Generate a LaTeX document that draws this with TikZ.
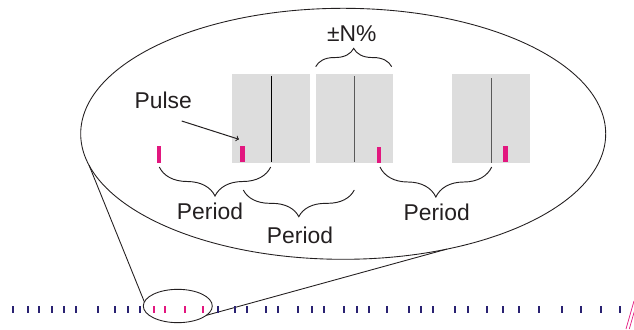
\documentclass[tikz,border=0pt]{standalone}
\usepackage{fontspec}
\setmainfont{Liberation Sans}
\usepackage{xcolor}
\usetikzlibrary{shapes.geometric,calc,decorations.pathreplacing}

\definecolor{pulsepink}{HTML}{E2177F}
\definecolor{ticknavy}{HTML}{2A2272}
\definecolor{boxgray}{HTML}{DDDDDD}
\definecolor{inkdark}{HTML}{231F20}

\begin{document}
\begin{tikzpicture}[x=0.3mm,y=-0.3mm,
	lbl/.style={font=\fontsize{19.5}{23}\selectfont,text=inkdark,inner sep=0pt},
	brc/.style={decorate,decoration={brace,amplitude=#1},line width=0.8pt,draw=inkdark},
	ring/.style={ellipse,draw=inkdark,line width=0.75pt,inner sep=0pt,outer sep=0pt}]
	\useasboundingbox (0,0) rectangle (634,329);

	% the two views
	\node[ring,minimum width=157.5mm,minimum height=75.3mm] (big) at (343.2,133.8) {};
	\node[ring,minimum width=20.7mm,minimum height=10mm] (small) at (177.8,306) {};
	\draw[inkdark,line width=0.75pt] (big.187) -- (small.173);
	\draw[inkdark,line width=0.75pt] (small.342) -- (big.312.6);

	% tolerance windows
	\fill[boxgray] (231.7,74) rectangle (310,162.7);
	\fill[boxgray] (315.7,74) rectangle (393.3,162.7);
	\fill[boxgray] (452,74) rectangle (530,162.7);
	\draw[black,line width=0.75pt] (271.7,76) -- (271.7,161.7);
	\draw[black!65,line width=0.85pt] (354,76) -- (354,161.7);
	\draw[black!65,line width=0.85pt] (491,78) -- (491,163.3);

	% pulses
	\foreach \x/\yt/\yb in {159/145.5/163,242.3/146/161.7,378.8/147.3/163.3,505.3/146/161.7}
		\fill[pulsepink] (\x-2.3,\yt) rectangle (\x+2.3,\yb);

	% braces
	\draw[brc=8.7mm,decoration={mirror}] (159.3,167) -- (270.7,167);
	\draw[brc=8mm,decoration={mirror}] (243.3,190) -- (354.3,190);
	\draw[brc=9mm,decoration={mirror}] (380,167) -- (491.7,167);
	\draw[brc=5.5mm] (315.7,66.7) -- (391.7,66.7);

	\node[lbl] (per1) at (210,211.7) {Period};
	\node[lbl] (per2) at (300,235) {Period};
	\node[lbl] (per3) at (436.7,212.7) {Period};
	\node[lbl] (tol) at (351.7,33.3) {±N\%};
	\node[lbl] (pulselbl) at (163.3,100) {Pulse};

	\coordinate (pa) at (181.7,121);
	\coordinate (pb) at (239,139.3);
	\draw[->,inkdark,line width=0.85pt] (pa) -- (pb);

	% pulse train
	\foreach \x in {13.3,27.7,39.3,52.3,64,76,98.3,115,127.7,140,218.3,235,247.3,265.7,278.3,298.3,311.7,324,344.3,356.7,369.3,386.7,409.3,420.7,433.3,455,468.3,486.7,502.7,519,539.3,561.7,580.7,601,620}
		\fill[ticknavy] (\x-1.1,305.5) rectangle (\x+1.1,312.5);
	\foreach \x in {153.7,165.3,185,202.7}
		\fill[pulsepink] (\x-1.1,305.5) rectangle (\x+1.1,312.5);

	% break mark
	\draw[pulsepink,line width=0.6pt] (626,329) -- (634,301);
	\draw[pulsepink,line width=0.6pt] (629.3,329) -- (637,302);
\end{tikzpicture}
\end{document}
